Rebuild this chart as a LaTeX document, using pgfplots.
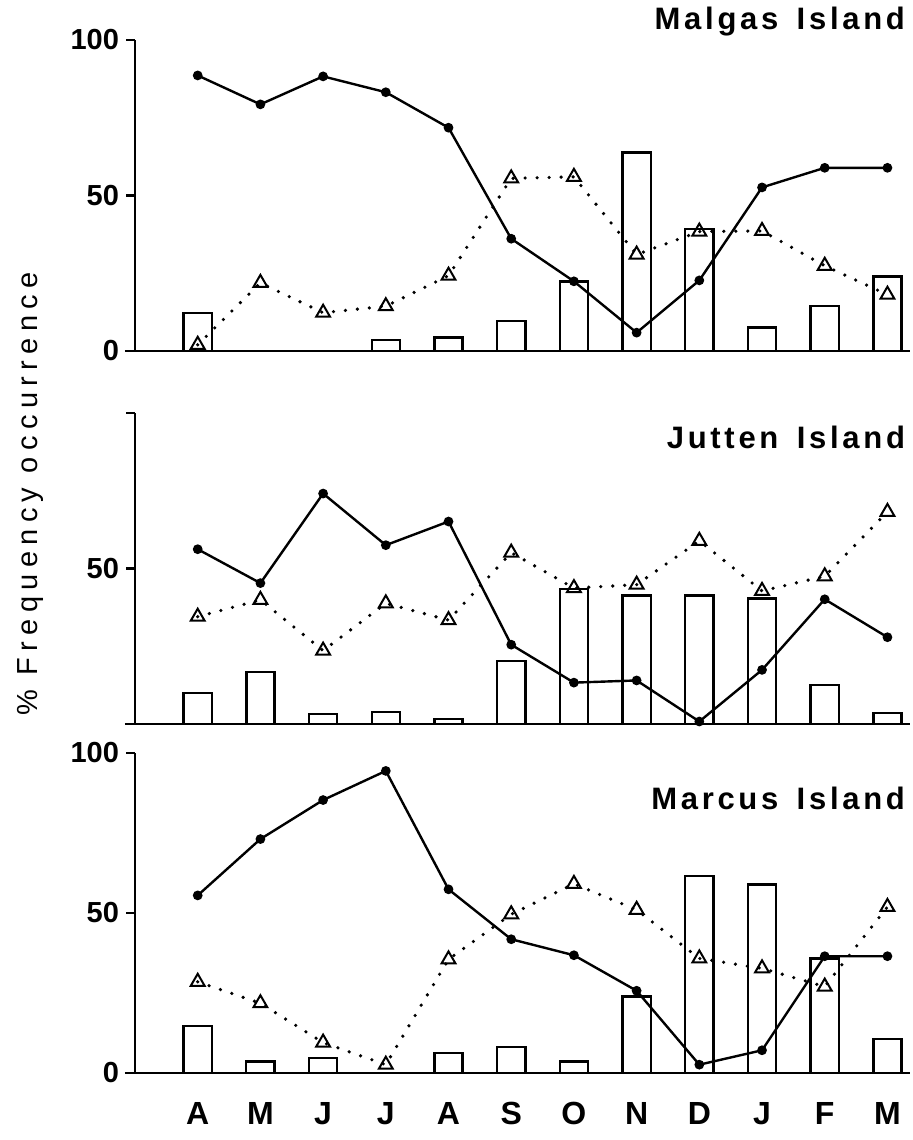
\documentclass[border=0pt]{standalone}
\usepackage{fontspec}
\setmainfont{Liberation Sans}
\usepackage{pgfplots}
\pgfplotsset{compat=1.18}
\pgfplotsset{
  panel/.style={
    scale only axis, width=387.5pt, xmin=-1, xmax=11.36, ymin=0, ymax=100,
    axis x line*=bottom, axis y line*=left,
    axis line style={line width=1.4pt, black},
    xtick=\empty, ytick={0,50,100},
    tick align=outside, major tick length=4.5pt,
    tick style={line width=1.2pt, black},
    clip=false, anchor=south west,
    ticklabel style={font=\bfseries\fontsize{14.5}{16}\selectfont},
    /pgf/number format/assume math mode=true,
  },
  barst/.style={ybar, bar width=0.45, fill=white, draw=black, line width=1.2pt},
  solidst/.style={black, line width=1.2pt, mark=*, mark size=1.8pt},
  trist/.style={black, line width=1.8pt, line cap=round, dash pattern=on 0pt off 6pt,
    mark=triangle, mark size=4pt, mark options={solid, line width=1pt, fill=white}},
}
\begin{document}
\begin{tikzpicture}
\path[use as bounding box] (0,0) rectangle (456pt,570pt);
% Top: Malgas
\begin{axis}[panel, height=155.5pt, at={(67.5pt,394.5pt)}]
\addplot[barst] coordinates {(0,12.3)(3,3.5)(4,4.3)(5,9.6)(6,22.4)(7,63.8)(8,39.3)(9,7.5)(10,14.4)(11,24)};
\addplot[trist] coordinates {(0,2)(1,21.9)(2,12.3)(3,14.4)(4,24.2)(5,55.5)(6,56)(7,31)(8,38.4)(9,38.6)(10,27.4)(11,18.1)};
\addplot[solidst] coordinates {(0,88.6)(1,79.3)(2,88.3)(3,83.2)(4,71.8)(5,36.1)(6,22.4)(7,5.9)(8,22.7)(9,52.6)(10,58.9)(11,58.9)};
\draw[line width=1.4pt] (axis cs:-1.16,0) -- (axis cs:-1,0);
\end{axis}
% Middle: Jutten
\begin{axis}[panel, height=155.5pt, at={(67.5pt,208pt)}, yticklabels={,50,}]
\addplot[barst] coordinates {(0,10)(1,16.7)(2,3.2)(3,3.8)(4,1.6)(5,20.3)(6,43.5)(7,41.3)(8,41.3)(9,40.4)(10,12.5)(11,3.5)};
\addplot[trist] coordinates {(0,34.5)(1,39.9)(2,23.6)(3,38.8)(4,33.4)(5,55.1)(6,43.7)(7,44.8)(8,58.9)(9,42.8)(10,47.5)(11,68.2)};
\addplot[solidst] coordinates {(0,56.2)(1,45.3)(2,74.1)(3,57.5)(4,65.1)(5,25.5)(6,13.3)(7,14.0)(8,0.8)(9,17.4)(10,40.1)(11,27.9)};
\draw[line width=1.4pt] (axis cs:-1.16,0) -- (axis cs:-1,0);
\end{axis}
% Bottom: Marcus
\begin{axis}[panel, height=160pt, at={(67.5pt,33.5pt)},
  xtick={0,...,11}, xticklabels={A,M,J,J,A,S,O,N,D,J,F,M},
  x tick style={draw=none},
  xticklabel style={anchor=base, yshift=-21pt, font=\bfseries\fontsize{16}{18}\selectfont}]
\addplot[barst] coordinates {(0,14.7)(1,3.6)(2,4.7)(4,6.2)(5,8.1)(6,3.6)(7,23.9)(8,61.5)(9,58.9)(10,35.8)(11,10.6)};
\addplot[trist] coordinates {(0,28.5)(1,21.8)(2,9.5)(3,2.6)(4,35.5)(5,49.6)(6,59.1)(7,51)(8,35.8)(9,32.7)(10,27)(11,51.9)};
\addplot[solidst] coordinates {(0,55.5)(1,73.1)(2,85.3)(3,94.4)(4,57.4)(5,41.8)(6,36.8)(7,25.7)(8,2.6)(9,7.1)(10,36.5)(11,36.5)};
\draw[line width=1.4pt] (axis cs:-1.16,0) -- (axis cs:-1,0);
\end{axis}
\tikzset{ttl/.style={anchor=east, font=\bfseries\fontsize{15.5}{17}\selectfont\addfontfeatures{LetterSpace=12}}}
\node[ttl] at (456pt,559pt) {Malgas\hspace{3pt} Island};
\node[ttl] at (456pt,351.5pt) {Jutten\hspace{3pt} Island};
\node[ttl] at (456pt,171pt) {Marcus\hspace{3pt} Island};
\node[rotate=90, font=\fontsize{14.5}{16}\selectfont\addfontfeatures{LetterSpace=22}] at (15pt,323pt) {\% Frequency occurrence};
\end{tikzpicture}
\end{document}
